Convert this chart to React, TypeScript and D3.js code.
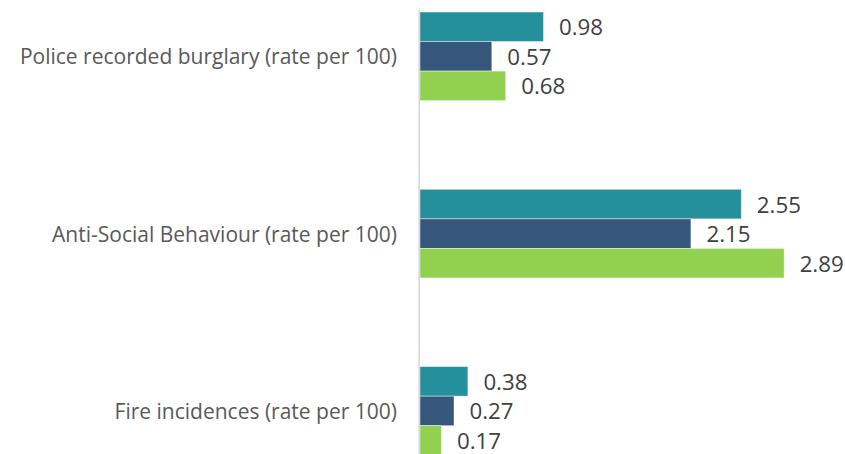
import React from "react";
import * as d3 from "d3";

const categories = [
  "Police recorded burglary (rate per 100)",
  "Anti-Social Behaviour (rate per 100)",
  "Fire incidences (rate per 100)",
];
const seriesNames = ["Series A", "Series B", "Series C"];
const seriesA = [0.98, 2.55, 0.38];
const seriesB = [0.57, 2.15, 0.27];
const seriesC = [0.68, 2.89, 0.17];
const seriesColors = ["#23909B", "#35577C", "#92D050"];

const W = 845;
const H = 454;

export default function App() {
  const series = [seriesA, seriesB, seriesC];
  const step = 177.3;
  const r0 = 12 - 0.25 * step;
  const y = d3
    .scaleBand<string>()
    .domain(categories)
    .range([r0, r0 + step * 3])
    .paddingInner(0.5)
    .paddingOuter(0.25);
  const yInner = d3
    .scaleBand<string>()
    .domain(seriesNames)
    .range([0, y.bandwidth()]);
  const x = d3.scaleLinear().domain([0, 3]).range([420, 798]);

  return (
    <div style={{ position: "absolute", left: 0, top: 0, width: W, height: H, background: "#fff" }}>
      <svg width={W} height={H} style={{ display: "block" }}>
        <rect x={0} y={0} width={W} height={H} fill="#fff" />
        {categories.map((c, ci) => (
          <g key={c}>
            <text
              x={397}
              y={(y(c) as number) + y.bandwidth() / 2}
              textAnchor="end"
              dominantBaseline="central"
              fontFamily="'Open Sans', sans-serif"
              fontSize={21}
              fill="#595959"
            >
              {c}
            </text>
            {series.map((s, si) => {
              const by = (y(c) as number) + (yInner(seriesNames[si]) as number);
              const bh = yInner.bandwidth();
              return (
                <g key={si}>
                  <rect
                    x={x(0)}
                    y={by}
                    width={x(s[ci]) - x(0)}
                    height={bh}
                    fill={seriesColors[si]}
                    stroke="rgba(255,255,255,0.55)"
                    strokeWidth={0.8}
                  />
                  <text
                    x={x(s[ci]) + 15.5}
                    y={by + bh / 2}
                    dominantBaseline="central"
                    fontFamily="'Open Sans', sans-serif"
                    fontSize={22.3}
                    fill="#404040"
                  >
                    {s[ci].toFixed(2)}
                  </text>
                </g>
              );
            })}
          </g>
        ))}
        <line x1={419.2} x2={419.2} y1={10} y2={H} stroke="#D9D9D9" strokeWidth={1.6} />
      </svg>
    </div>
  );
}
